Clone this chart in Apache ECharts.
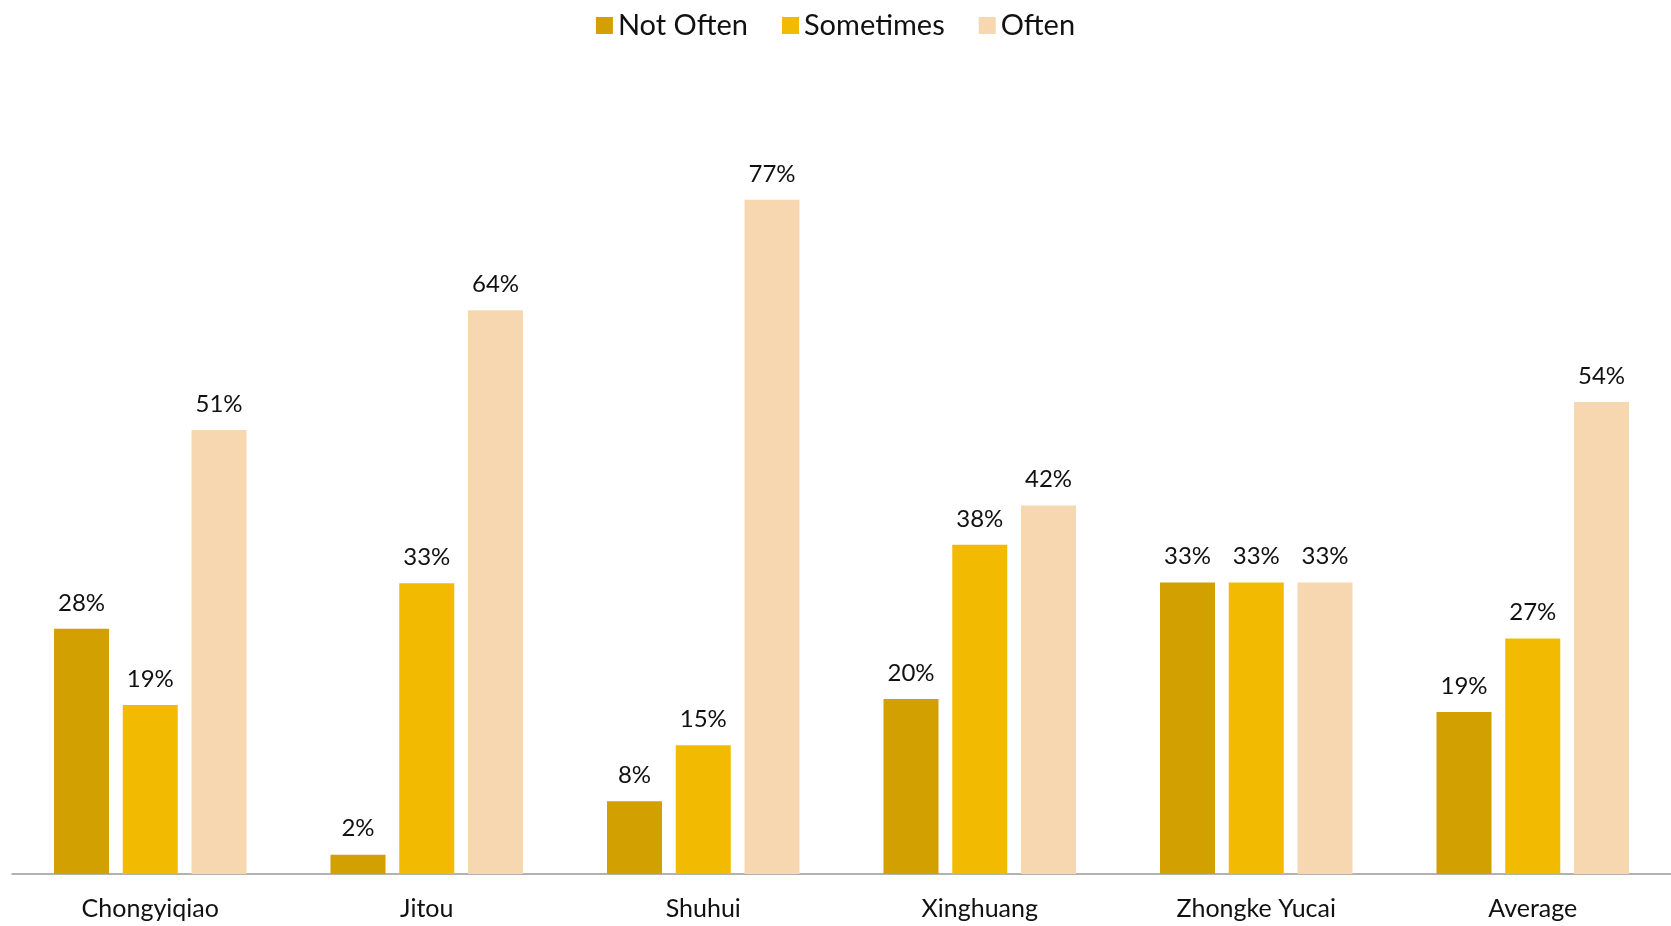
<!DOCTYPE html>
<html>
<head>
<meta charset="utf-8">
<script src="https://cdn.jsdelivr.net/npm/echarts@6/dist/echarts.min.js"></script>
<style>html,body{margin:0;padding:0;background:#fff;}#c{width:1671px;height:926px;}</style>
</head>
<body>
<div id="c"></div>
<script>
const categories = ['Chongyiqiao', 'Jitou', 'Shuhui', 'Xinghuang', 'Zhongke Yucai', 'Average'];
const seriesNames = ['Not Often', 'Sometimes', 'Often'];
const notOften = [0.28, 0.022, 0.083, 0.20, 0.333, 0.185];
const sometimes = [0.193, 0.332, 0.147, 0.376, 0.333, 0.269];
const often = [0.507, 0.644, 0.770, 0.421, 0.333, 0.539];
const colors = ['#D2A000', '#F2BA00', '#F7D7AF'];

const FONT = 'Lato, "Open Sans", sans-serif';
const chart = echarts.init(document.getElementById('c'));
const mk = (name, data, color) => ({
  name, type: 'bar', data,
  barWidth: 55, barGap: '25%',
  itemStyle: { color },
  label: {
    show: true, position: 'top', distance: 14,
    formatter: p => Math.round(p.value * 100) + '%',
    fontFamily: FONT, fontSize: 24, color: '#111'
  }
});
chart.setOption({
  animation: false,
  color: colors,
  legend: {
    data: seriesNames,
    top: 6, left: 'center',
    itemWidth: 17, itemHeight: 17, itemGap: 34,
    icon: 'rect',
    textStyle: { fontFamily: FONT, fontSize: 29, color: '#111' }
  },
  grid: { left: 12, right: 0, top: 86, bottom: 52, containLabel: false },
  xAxis: {
    type: 'category', data: categories,
    axisLine: { lineStyle: { color: '#999', width: 1.5 } },
    axisTick: { show: false },
    axisLabel: { fontFamily: FONT, fontSize: 25, color: '#111', margin: 22 }
  },
  yAxis: {
    type: 'value', min: 0, max: 0.9,
    show: false,
    splitLine: { show: false }
  },
  series: [
    mk(seriesNames[0], notOften, colors[0]),
    mk(seriesNames[1], sometimes, colors[1]),
    mk(seriesNames[2], often, colors[2])
  ]
});
</script>
</body>
</html>
